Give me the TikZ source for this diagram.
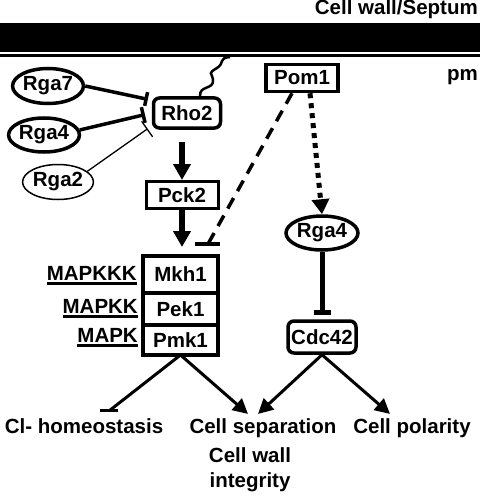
\documentclass[tikz,border=0pt]{standalone}
\usepackage{fontspec}
\setmainfont{Liberation Sans}
\usetikzlibrary{arrows.meta,shapes.geometric,calc}
\newcommand{\lvl}[1]{\vtop{\hbox{#1}\kern2pt\hrule height 2.5pt}}

\begin{document}
\begin{tikzpicture}[x=1pt,y=-1pt,
  font=\fontsize{20.5}{25}\selectfont\bfseries,
  gap/.style={ellipse,draw,line width=3.5pt,inner sep=0pt},
  kin/.style={rectangle,draw,line width=3.5pt,inner sep=0pt},
  rkin/.style={kin,rounded corners=6pt},
  txt/.style={inner sep=0pt},
  act/.style={line width=6pt,-{Triangle[length=16pt,width=17pt]}},
  result/.style={line width=3pt,-{Triangle[length=15pt,width=15pt]}},
  inh/.style={line width=3.5pt,-{Bar[width=14pt]}}]
\useasboundingbox (0,0) rectangle (480,500);
\fill (0,23.5) rectangle (480,52);
\draw[line width=3.5pt] (0,55.7) -- (480,55.7);
\node[txt,anchor=base east] (wall) at (478,15) {Cell wall/Septum};
\node[txt,anchor=base east] (pm) at (478,81) {pm};

\node[gap,minimum width=64pt,minimum height=35pt] (rga7) at (48,86) {Rga7};
\node[gap,minimum width=66pt,minimum height=34pt] (rga4) at (44,135) {Rga4};
\node[gap,line width=1.5pt,minimum width=65pt,minimum height=35pt] (rga2) at (58,182) {Rga2};
\node[rkin,minimum width=67pt,minimum height=30pt] (rho) at (187,113) {Rho2};
\node[kin,line width=3pt,minimum width=72pt,minimum height=27pt] (pck) at (182,195) {Pck2};
\node[kin,minimum width=72pt,minimum height=27pt] (pom) at (302,78) {Pom1};
\node[gap,minimum width=72pt,minimum height=34pt] (rgb) at (322,233) {Rga4};
\node[rkin,minimum width=68pt,minimum height=32pt] (cdc) at (322,337) {Cdc42};

\node[kin,line width=2pt,minimum width=73pt,minimum height=35pt] (mkh) at (180.5,274.5) {Mkh1};
\node[kin,line width=2pt,minimum width=73pt,minimum height=30pt,anchor=north] (pek) at (mkh.south) {Pek1};
\node[kin,line width=2pt,minimum width=73pt,minimum height=28pt,anchor=north] (pmk) at (pek.south) {Pmk1};
\draw[line width=3.5pt] (mkh.north west) rectangle (pmk.south east);
\node[txt,anchor=base east] (kkk) at (137,280) {\lvl{MAPKKK}};
\node[txt,anchor=base east] (kk) at (138,313) {\lvl{MAPKK}};
\node[txt,anchor=base east] (k) at (138,342) {\lvl{MAPK}};

\node[txt,anchor=base] (cl) at (84,433) {Cl- homeostasis};
\node[txt,anchor=base] (sep) at (263,433) {Cell separation};
\node[txt,anchor=base] (pol) at (412,433) {Cell polarity};
\node[txt,anchor=north,align=center] (cwi) at (250,447) {Cell wall\\integrity};

\coordinate (pmhook) at (230,57);
\coordinate (mkhbar) at ($(mkh.north east)+(-10,-12)$);
\coordinate (sepl) at ($(sep.north)+(-15,-4)$);
\coordinate (sepr) at ($(sep.north)+(-5,-4)$);
\coordinate (polr) at ($(pol.north)+(-22,-4)$);
\coordinate (clbar) at ($(cl.north)+(25,-7)$);

\draw[line width=2.5pt] (rho.52) .. controls (199,85) and (214,90) .. (213,80)
  .. controls (212,72) and (207,74) .. (217,68) .. controls (225,63) and (218,58) .. (pmhook);
\draw[inh,shorten >=4pt] (rga7.east) -- (rho.160);
\draw[inh,-{Bar[width=16pt]},shorten >=7pt] (rga4.8) -- (rho.180);
\draw[inh,line width=1.3pt,-{Bar[width=19pt]},shorten >=5pt] (rga2.20) -- (rho.200);
\draw[act,shorten <=12pt] (rho.south -| pck) -- (pck.north);
\draw[act,shorten >=9pt] (pck.south) -- (mkh.north -| pck);
\draw[line width=3.5pt,dash pattern=on 12pt off 8pt] ($(pom.south)+(-10,0)$) -- (mkhbar);
\draw[line width=3.5pt] ($(mkhbar)+(-13,0)$) -- ($(mkhbar)+(12,0)$);
\draw[line width=5pt,dash pattern=on 5pt off 5pt,-{Triangle[length=15pt,width=17pt]}] ($(pom.south)+(8,0)$) -- (rgb.north);
\draw[line width=5pt,-{Bar[width=17pt]},shorten >=4pt] (rgb.south) -- (cdc.north);

\draw[result] (pmk.south) -- (sepl);
\draw[result] (cdc.south) -- (sepr);
\draw[result] (cdc.south) -- (polr);
\draw[line width=3pt] (pmk.south) -- (clbar);
\draw[line width=3pt] ($(clbar)+(-9,0)$) -- ($(clbar)+(9,0)$);
\end{tikzpicture}
\end{document}
